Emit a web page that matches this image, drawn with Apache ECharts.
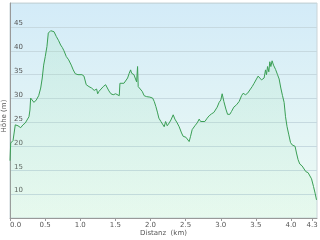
<!DOCTYPE html>
<html><head><meta charset="utf-8">
<script src="https://cdn.jsdelivr.net/npm/echarts@6/dist/echarts.min.js"></script>
<style>html,body{margin:0;padding:0;background:#fff}#c{width:320px;height:240px}</style>
</head><body><div id="c"></div>
<script>
var distances = [0,0.010,0.043,0.067,0.075,0.095,0.114,0.152,0.185,0.218,0.246,0.270,0.284,0.294,0.313,0.341,0.374,0.408,0.437,0.459,0.479,0.502,0.526,0.545,0.579,0.602,0.626,0.659,0.693,0.721,0.744,0.768,0.801,0.835,0.872,0.900,0.929,0.967,0.991,1.024,1.053,1.085,1.124,1.162,1.199,1.219,1.233,1.248,1.266,1.294,1.327,1.361,1.384,1.408,1.437,1.469,1.504,1.532,1.555,1.565,1.589,1.622,1.650,1.674,1.697,1.717,1.731,1.764,1.788,1.802,1.816,1.825,1.849,1.882,1.910,1.945,1.991,2.030,2.053,2.077,2.101,2.119,2.148,2.172,2.195,2.215,2.238,2.266,2.290,2.323,2.347,2.380,2.408,2.442,2.465,2.504,2.528,2.550,2.570,2.593,2.632,2.664,2.693,2.713,2.741,2.774,2.807,2.835,2.869,2.902,2.930,2.949,2.977,3.001,3.020,3.044,3.073,3.097,3.129,3.153,3.186,3.225,3.262,3.296,3.318,3.352,3.381,3.414,3.447,3.475,3.509,3.532,3.556,3.580,3.617,3.637,3.651,3.666,3.684,3.698,3.713,3.731,3.751,3.780,3.808,3.831,3.855,3.879,3.902,3.922,3.944,3.969,3.993,4.016,4.030,4.044,4.058,4.078,4.101,4.125,4.158,4.186,4.211,4.243,4.267,4.292,4.320,4.343,4.363];
var heights = [17.0,20.7,21.2,21.2,24.5,24.9,24.3,23.9,24.5,24.9,25.2,26.2,27.6,30.1,29.7,29.2,29.7,30.6,32.2,34.3,37.0,38.8,40.9,43.7,44.2,44.5,44.0,43.0,42.1,41.2,40.7,40.0,38.8,38.1,37.0,36.0,35.2,35.0,34.6,35.0,34.7,32.9,32.5,32.2,31.7,31.3,32.0,31.0,31.5,31.1,32.5,32.9,32.5,31.6,31.0,30.8,31.0,30.8,30.6,33.2,32.9,33.2,33.5,34.3,35.3,36.0,35.3,35.0,34.6,33.5,36.7,32.5,32.2,31.5,30.6,30.4,30.3,30.1,29.4,28.3,27.0,25.9,25.2,25.2,24.1,25.2,24.3,24.9,25.5,26.6,25.7,24.9,24.1,22.8,22.1,21.9,21.5,21.0,22.1,23.5,24.3,24.9,25.7,25.2,24.9,25.2,25.9,26.4,26.8,27.1,26.7,28.2,29.2,29.7,31.0,29.4,27.8,26.7,26.7,27.3,28.2,28.7,29.4,30.6,31.1,30.8,31.1,31.8,32.5,33.2,34.1,34.7,34.3,33.9,34.3,36.0,35.0,36.7,35.6,37.7,36.7,37.9,37.0,36.1,35.0,34.1,32.2,30.6,29.2,26.2,24.1,22.4,20.8,20.3,20.7,20.3,20.0,18.6,17.2,16.3,15.9,15.5,14.7,14.5,14.4,13.2,11.6,10.2,8.8];
var xTickValues = [0,0.5,1.0,1.5,2.0,2.5,3.0,3.5,4.0,4.3];
var xAxisName = 'Distanz  (km)';
var yAxisName = 'Höhe (m)';

var chart = echarts.init(document.getElementById('c'), null, {renderer:'canvas'});
var pts = distances.map(function(d,i){return [d, heights[i]];});
var font = 'DejaVu Sans';
chart.setOption({
  animation:false,
  grid:{left:10,right:3,top:3,bottom:22,outerBoundsMode:'none',containLabel:false,show:true,borderColor:'#c9d4d8',borderWidth:1,
    backgroundColor:new echarts.graphic.LinearGradient(0,0,0,1,[{offset:0,color:'#d3ebf8'},{offset:1,color:'#eefbf3'}])},
  xAxis:{type:'value',min:0,max:4.37,
    name:xAxisName,nameLocation:'middle',nameGap:12,nameMoveOverlap:false,
    nameTextStyle:{fontFamily:font,fontSize:7,color:'#555'},
    axisLine:{lineStyle:{color:'#999',width:1}},
    axisTick:{show:true,length:3,lineStyle:{color:'#999'},customValues:xTickValues},
    axisLabel:{fontFamily:font,fontSize:7,color:'#555',margin:4,customValues:xTickValues,
      alignMinLabel:'left',formatter:function(v){return v.toFixed(1);}},
    splitLine:{show:false}},
  yAxis:{type:'value',min:5,max:50,interval:5,
    name:yAxisName,nameLocation:'middle',nameGap:2,nameMoveOverlap:false,
    nameTextStyle:{fontFamily:font,fontSize:7,color:'#555',padding:[0,11,0,0]},
    axisLine:{show:true,lineStyle:{color:'#999',width:1}},
    axisTick:{show:false},
    axisLabel:{inside:true,fontFamily:font,fontSize:7,color:'#555',margin:4,verticalAlign:'bottom',
      showMinLabel:false,showMaxLabel:false},
    splitLine:{show:true,lineStyle:{color:'#c6d9e0',width:1}}},
  series:[{type:'line',data:pts,showSymbol:false,symbol:'none',
    lineStyle:{color:'#3a9f55',width:1},
    areaStyle:{color:new echarts.graphic.LinearGradient(0,0,0,1,[{offset:0,color:'rgba(150,225,170,0.28)'},{offset:1,color:'rgba(170,235,190,0.15)'}])}}]
});
</script></body></html>
